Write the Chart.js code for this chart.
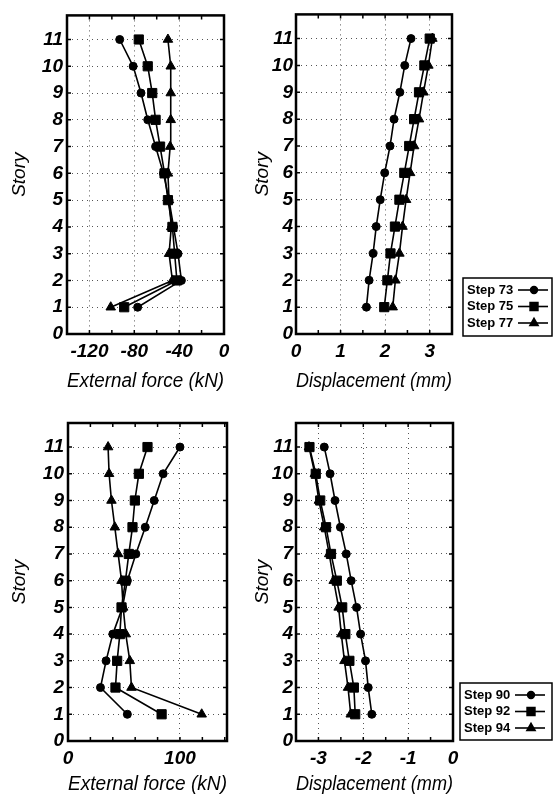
<!DOCTYPE html>
<html>
<head>
<meta charset="utf-8">
<script src="https://cdn.jsdelivr.net/npm/chart.js@4.4.1/dist/chart.umd.min.js"></script>
<style>
  body { margin: 0; background: #fff; width: 553px; height: 796px; position: relative; overflow: hidden; }
  canvas { position: absolute; }
</style>
</head>
<body>
<canvas id="c1" style="left:0;top:0"></canvas>
<canvas id="c2" style="left:245px;top:0"></canvas>
<canvas id="c3" style="left:0;top:400px"></canvas>
<canvas id="c4" style="left:245px;top:400px"></canvas>
<script>
const stories = [1, 2, 3, 4, 5, 6, 7, 8, 9, 10, 11];
const topSteps = ['Step 73', 'Step 75', 'Step 77'];
const botSteps = ['Step 90', 'Step 92', 'Step 94'];

// external force (kN), story 1 -> 11
const force73 = [-77, -38, -41, -45, -49, -54, -61, -68, -74, -81, -93];
const force75 = [-89, -42, -44, -46, -50, -53, -57, -61, -64, -68, -76];
const force77 = [-101, -46, -49, -47, -49, -50, -48, -47.5, -47.5, -47.5, -50];
// displacement (mm)
const disp73 = [1.58, 1.64, 1.73, 1.80, 1.89, 1.99, 2.11, 2.20, 2.33, 2.44, 2.58];
const disp75 = [1.98, 2.05, 2.12, 2.22, 2.32, 2.43, 2.54, 2.65, 2.76, 2.88, 3.00];
const disp77 = [2.17, 2.23, 2.32, 2.39, 2.47, 2.56, 2.65, 2.76, 2.86, 2.97, 3.06];

const force90 = [53, 29, 34, 40, 48.7, 53, 60.6, 69, 77, 85, 100];
const force92 = [83.6, 42.4, 43.9, 46.3, 47.8, 51.3, 54.3, 57.6, 59.7, 63.3, 71];
const force94 = [119.4, 56.7, 55.2, 51.6, 49.3, 47.8, 44.8, 41.8, 38.8, 36.7, 35.8];
const disp90 = [-1.81, -1.89, -1.95, -2.06, -2.15, -2.27, -2.38, -2.51, -2.63, -2.74, -2.87];
const disp92 = [-2.18, -2.21, -2.31, -2.40, -2.47, -2.59, -2.72, -2.83, -2.96, -3.06, -3.20];
const disp94 = [-2.28, -2.34, -2.42, -2.49, -2.55, -2.66, -2.76, -2.87, -2.99, -3.08, -3.21];

const markers = ['circle', 'rect', 'triangle'];
const markerSize = [4, 6.5, 5.5];

Chart.defaults.font.family = "'Liberation Sans', Arial, sans-serif";
Chart.defaults.color = '#000';

const tickFont = { size: 19, weight: 'bold', style: 'italic' };
const xTitleFont = { size: 20, style: 'italic' };
const yTitleFont = { size: 19, style: 'italic' };

function series(labels, lists) {
  return lists.map((vals, i) => ({
    label: labels[i],
    data: vals.map((v, k) => ({ x: v, y: stories[k] })),
    showLine: true,
    borderColor: '#000',
    backgroundColor: '#000',
    borderWidth: 1.6,
    pointStyle: markers[i],
    pointRadius: markerSize[i],
    pointHoverRadius: markerSize[i],
    pointBorderWidth: 1
  }));
}

// box round the plot plus small inward tick marks
const frame = {
  id: 'frame',
  afterDatasetsDraw(chart) {
    const { ctx, chartArea: a, scales } = chart;
    ctx.save();
    ctx.strokeStyle = '#000';
    ctx.lineWidth = 1.5;
    ctx.beginPath();
    scales.x.ticks.forEach(t => {
      const p = scales.x.getPixelForValue(t.value);
      ctx.moveTo(p, a.top); ctx.lineTo(p, a.top + 4);
      ctx.moveTo(p, a.bottom); ctx.lineTo(p, a.bottom - 4);
    });
    scales.y.ticks.forEach(t => {
      const p = scales.y.getPixelForValue(t.value);
      ctx.moveTo(a.left, p); ctx.lineTo(a.left + 4, p);
      ctx.moveTo(a.right, p); ctx.lineTo(a.right - 4, p);
    });
    ctx.stroke();
    ctx.lineWidth = 2.5;
    ctx.strokeRect(a.left, a.top, a.right - a.left, a.bottom - a.top);
    ctx.restore();
  }
};

const stepLegend = {
  id: 'stepLegend',
  afterDraw(chart, args, o) {
    if (!o || o.x === undefined) return;
    const ctx = chart.ctx;
    ctx.save();
    ctx.strokeStyle = '#000';
    ctx.fillStyle = '#000';
    ctx.lineWidth = 1.5;
    ctx.strokeRect(o.x, o.y, o.w, o.h);
    ctx.font = "bold 13px 'Liberation Sans', Arial, sans-serif";
    ctx.textBaseline = 'middle';
    chart.data.datasets.forEach((ds, i) => {
      const cy = o.y + 12 + i * 16.5;
      ctx.fillText(ds.label, o.x + 4, cy);
      ctx.lineWidth = 1.6;
      ctx.beginPath();
      ctx.moveTo(o.x + 55, cy);
      ctx.lineTo(o.x + 85, cy);
      ctx.stroke();
      Chart.helpers.drawPoint(ctx, {
        pointStyle: ds.pointStyle, radius: ds.pointRadius * 0.85, rotation: 0, borderWidth: 1
      }, o.x + 71, cy);
    });
    ctx.restore();
  }
};

Chart.register(frame, stepLegend);

function panel(id, cfg) {
  const el = document.getElementById(id);
  el.width = cfg.w;
  el.height = cfg.h;
  new Chart(el, {
    type: 'scatter',
    data: { datasets: series(cfg.labels, cfg.lists) },
    options: {
      responsive: false,
      animation: false,
      layout: { padding: { top: cfg.top, right: cfg.right, left: 0, bottom: 0 } },
      plugins: {
        legend: { display: false },
        tooltip: { enabled: false },
        stepLegend: cfg.legend || false
      },
      scales: {
        x: {
          type: 'linear',
          min: cfg.xmin,
          max: cfg.xmax,
          afterFit: s => { s.height = cfg.h - cfg.bottom; },
          ticks: {
            stepSize: cfg.step,
            includeBounds: false,
            padding: 6,
            maxRotation: 0,
            autoSkip: false,
            font: tickFont,
            callback: v => cfg.showX(v) ? String(Math.round(v)) : ''
          },
          grid: {
            drawTicks: false,
            color: c => (c.tick && cfg.showX(c.tick.value) && c.tick.value !== cfg.xmax && c.tick.value !== cfg.xmin) ? '#555' : 'rgba(0,0,0,0)',
            lineWidth: 1
          },
          border: { display: false, dash: [1, 4] },
          title: { display: true, text: cfg.xtitle, font: xTitleFont, padding: { top: 0, bottom: cfg.xtp } }
        },
        y: {
          type: 'linear',
          min: 0,
          max: 11.9,
          afterFit: s => { s.width = cfg.left; },
          ticks: { stepSize: 1, includeBounds: false, padding: cfg.ytick, font: tickFont },
          grid: {
            drawTicks: false,
            color: c => (c.tick && c.tick.value > 0) ? '#555' : 'rgba(0,0,0,0)',
            lineWidth: 1
          },
          border: { display: false, dash: [1, 4] },
          title: { display: true, text: 'Story', font: yTitleFont, padding: { top: cfg.ytp, bottom: 0 } }
        }
      }
    }
  });
}

const isInt = v => Math.abs(v - Math.round(v)) < 1e-6;

panel('c1', {
  w: 245, h: 395, left: 67, top: 14, right: 21, bottom: 334,
  labels: topSteps, lists: [force73, force75, force77],
  xmin: -140, xmax: 0, step: 20, showX: v => Math.round(v) % 40 === 0,
  xtitle: 'External force (kN)', xtp: 2, ytick: 4, ytp: 8
});
panel('c2', {
  w: 308, h: 395, left: 51, top: 14, right: 101, bottom: 334,
  labels: topSteps, lists: [disp73, disp75, disp77],
  xmin: 0, xmax: 3.5, step: 0.5, showX: isInt,
  xtitle: 'Displacement (mm)', xtp: 2, ytick: 3, ytp: 6,
  legend: { x: 218, y: 278, w: 89, h: 58 }
});
panel('c3', {
  w: 245, h: 396, left: 68, top: 23, right: 18, bottom: 341,
  labels: botSteps, lists: [force90, force92, force94],
  xmin: 0, xmax: 142, step: 20, showX: v => Math.round(v) === 0 || Math.round(v) === 100,
  xtitle: 'External force (kN)', xtp: 0, ytick: 4, ytp: 8
});
panel('c4', {
  w: 308, h: 396, left: 51, top: 23, right: 100, bottom: 341,
  labels: botSteps, lists: [disp90, disp92, disp94],
  xmin: -3.5, xmax: 0, step: 0.5, showX: isInt,
  xtitle: 'Displacement (mm)', xtp: 0, ytick: 3, ytp: 6,
  legend: { x: 215, y: 283, w: 92, h: 57 }
});
</script>
</body>
</html>
